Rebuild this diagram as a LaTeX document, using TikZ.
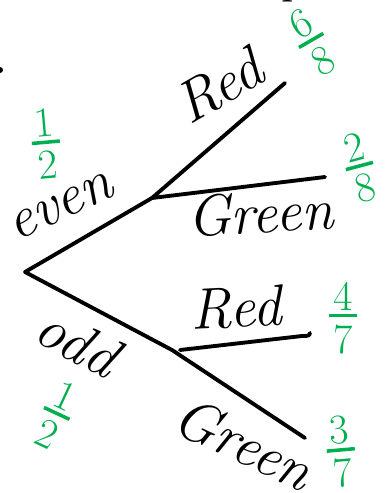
\documentclass[tikz,border=0pt]{standalone}
\usepackage{tikz}
\usetikzlibrary{positioning}
\definecolor{handgreen}{HTML}{00B050}
\newcommand{\probfrac}[2]{\shortstack{#1\\[-1pt]\rule{16pt}{2pt}\\[1pt]#2}}
\tikzset{
	branchtext/.style={font=\fontsize{33}{33}\selectfont\itshape, inner sep=1pt}
}
\tikzset{
	probtext/.style={font=\fontsize{24}{24}\selectfont, text=handgreen, inner sep=0pt}
}

\begin{document}
\begin{tikzpicture}[x=0.02cm,y=-0.02cm,line width=2.2pt,line cap=round,line join=round]
      \useasboundingbox (0,0) rectangle (385,493);
      % cut-off marks at the edges
      \node[font=\fontsize{28}{28}\selectfont, anchor=base, inner sep=0pt] (pcut) at (294,-7) {p};
      \fill (0,70) circle (3);
      % tree points
      \coordinate (root) at (25,272);
      \coordinate (even) at (152,198);
      \coordinate (odd) at (172,350);
      \coordinate (evenred) at (285,83);
      \coordinate (evengreen) at (325,177);
      \coordinate (oddred) at (310,333);
      \coordinate (oddgreen) at (305,438);
      % branches
      \draw (root) -- (even);
      \draw (root) -- (odd);
      \draw (even) -- (evenred);
      \draw (even) -- (evengreen);
      \draw (odd) ++(8,0) -- ++(122,-14) to[out=0,in=-90] (oddred);
      \draw (odd) -- (oddgreen);
      % outcome labels
      \node[branchtext, rotate=30] (lred) at (219,86) {Red};
      \node[branchtext, rotate=3] (lgreen) at (260,213) {Green};
      \node[branchtext, rotate=25] (leven) at (61,207) {even};
      \node[branchtext, rotate=-28] (lodd) at (78,342) {odd};
      \node[branchtext, rotate=3] (lred2) at (236,308) {Red};
      \node[branchtext, rotate=-25] (lgreen2) at (244,443) {Green};
      % probabilities
      \node[probtext, rotate=30] (p68) at (312,42) {\probfrac{6}{8}};
      \node[probtext, rotate=15] (p28) at (360,168) {\probfrac{2}{8}};
      \node[probtext, rotate=5] (peven) at (46,144) {\probfrac{1}{2}};
      \node[probtext] (p47) at (343,318) {\probfrac{4}{7}};
      \node[probtext, rotate=-25] (podd) at (56,415) {\probfrac{1}{2}};
      \node[probtext, rotate=5] (p37) at (341,452) {\probfrac{3}{7}};
\end{tikzpicture}
\end{document}
